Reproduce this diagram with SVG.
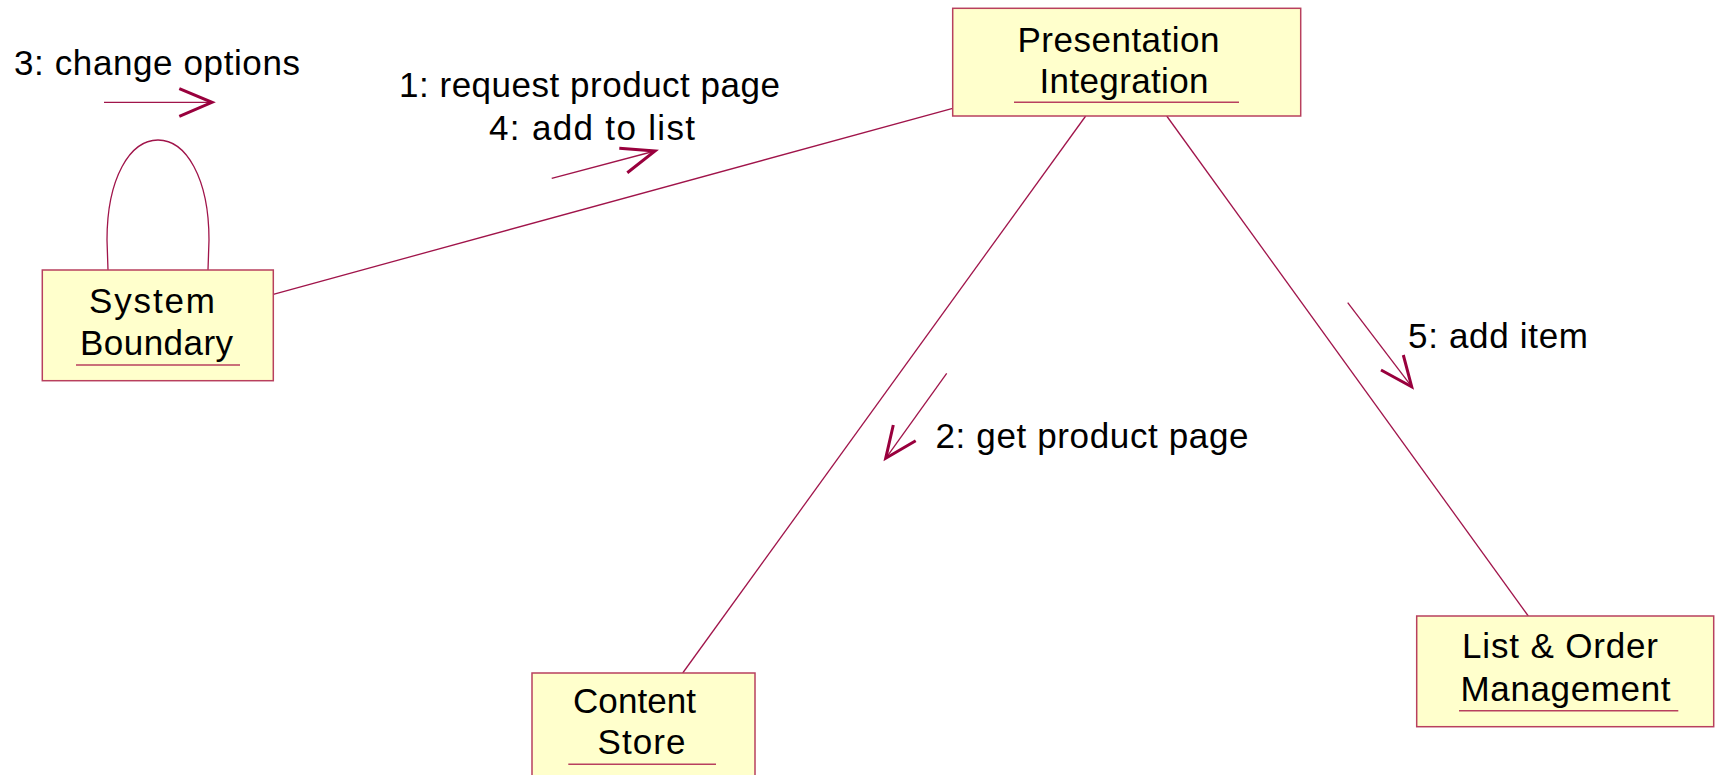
<svg xmlns="http://www.w3.org/2000/svg" width="1716" height="775" viewBox="0 0 1716 775">
<style>
.box{fill:#FFFFCC;stroke:#B8405E;stroke-width:1.5}
.ul{stroke:#B8405E;stroke-width:1.5}
.ln{fill:none;stroke:#A0144A;stroke-width:1.3}
.ah{fill:none;stroke:#99003D;stroke-width:3;stroke-linecap:butt}
text{font-family:"Liberation Sans",Arial,sans-serif;font-size:35px;fill:#000}
</style>
<rect width="1716" height="775" fill="#fff"/>
<g id="connectors">
<path class="ln" d="M108,270 L107,240 C107,178 130,140 158,140 C186,140 209,178 209,240 L208,270"/>
<line class="ln" x1="273.3" y1="294.3" x2="952.7" y2="108.3"/>
<line class="ln" x1="1085.7" y1="116" x2="682.7" y2="673"/>
<line class="ln" x1="1166.7" y1="116" x2="1528.3" y2="616"/>
</g>
<g id="messages">
<g id="msg3">
<text x="14" y="75" textLength="286" lengthAdjust="spacing">3: change options</text>
<line class="ln" x1="104" y1="102.3" x2="212" y2="102.3"/>
<path class="ah" d="M179.3,88.7 L212,102.3 L179.3,116.3"/>
</g>
<g id="msg1-4">
<text x="399" y="96.7" textLength="381" lengthAdjust="spacing">1: request product page</text>
<text x="489" y="140" textLength="206" lengthAdjust="spacing">4: add to list</text>
<line class="ln" x1="551.7" y1="178.3" x2="655" y2="151"/>
<path class="ah" d="M619.3,148.3 L655,151 L627.3,172.7"/>
</g>
<g id="msg2">
<text x="935.5" y="448.3" textLength="313" lengthAdjust="spacing">2: get product page</text>
<line class="ln" x1="946.7" y1="373.3" x2="885.7" y2="458.3"/>
<path class="ah" d="M893.3,425 L885.7,458.3 L915.7,440.7"/>
</g>
<g id="msg5">
<text x="1408" y="348.3" textLength="180" lengthAdjust="spacing">5: add item</text>
<line class="ln" x1="1347.7" y1="302.7" x2="1411.7" y2="386.7"/>
<path class="ah" d="M1403.3,355 L1411.7,386.7 L1381,370"/>
</g>
</g>
<g id="system-boundary">
<rect class="box" x="42.3" y="270" width="231" height="110.7"/>
<text x="89" y="312.7" textLength="126" lengthAdjust="spacing">System</text>
<text x="80" y="355" textLength="153" lengthAdjust="spacing">Boundary</text>
<line class="ul" x1="76" y1="365" x2="240" y2="365"/>
</g>
<g id="presentation-integration">
<rect class="box" x="952.7" y="8.3" width="348" height="107.7"/>
<text x="1017.5" y="51.7" textLength="202" lengthAdjust="spacing">Presentation</text>
<text x="1039.5" y="93.3" textLength="169" lengthAdjust="spacing">Integration</text>
<line class="ul" x1="1014" y1="102.3" x2="1239" y2="102.3"/>
</g>
<g id="content-store">
<rect class="box" x="532" y="673" width="223" height="110"/>
<text x="573" y="712.7" textLength="123" lengthAdjust="spacing">Content</text>
<text x="597.5" y="754.3" textLength="88" lengthAdjust="spacing">Store</text>
<line class="ul" x1="568.3" y1="764.3" x2="716" y2="764.3"/>
</g>
<g id="list-order-management">
<rect class="box" x="1416.7" y="616" width="297" height="110.7"/>
<text x="1462" y="658.3" textLength="196" lengthAdjust="spacing">List &amp; Order</text>
<text x="1460.5" y="700.7" textLength="210" lengthAdjust="spacing">Management</text>
<line class="ul" x1="1459" y1="710.7" x2="1678.3" y2="710.7"/>
</g>
</svg>
